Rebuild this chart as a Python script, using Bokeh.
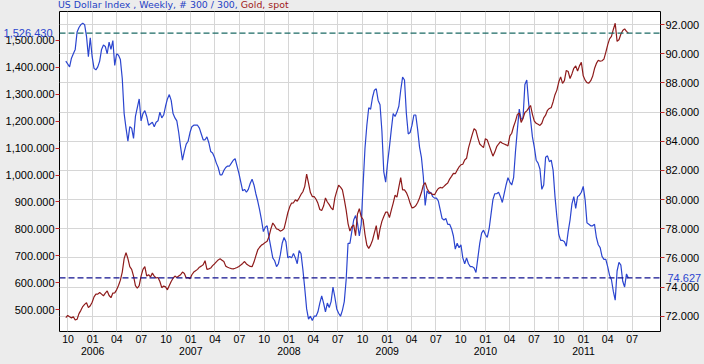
import pandas as pd
from datetime import datetime
from bokeh.plotting import figure
from bokeh.layouts import column
from bokeh.models import (Range1d, LinearAxis, FixedTicker, NumeralTickFormatter,
                          CustomJSTickFormatter, Span, ColumnDataSource, Div)
from bokeh.embed import file_html
from bokeh.resources import INLINE

# ---------------- data (weekly) ----------------
start_date = "2005-09-23"

usd_values = [
    89.5, 89.3, 89.1, 89.7, 90.0, 90.3, 91.5, 91.8, 92.0, 92.1,
    92.0, 91.2, 89.8, 91.1, 89.8, 89.0, 88.9, 89.1, 89.5, 90.3,
    90.6, 90.5, 90.0, 90.8, 90.3, 90.9, 89.2, 90.0, 89.9, 89.6,
    88.3, 85.9, 84.9, 84.0, 85.0, 84.9, 84.2, 85.7, 86.3, 86.9,
    85.4, 85.9, 86.1, 85.7, 85.1, 85.2, 85.3, 85.0, 85.3, 85.4,
    86.0, 85.6, 85.8, 86.4, 86.9, 87.2, 86.8, 85.9, 85.6, 85.4,
    84.6, 83.6, 82.7, 83.3, 83.8, 84.0, 84.6, 85.0, 85.1, 85.1,
    85.1, 84.9, 84.5, 84.1, 84.1, 84.3, 83.9, 83.3, 83.2, 82.9,
    82.5, 82.2, 81.7, 81.7, 82.0, 82.2, 82.3, 82.3, 82.5, 82.7,
    82.8, 82.3, 81.8, 81.2, 80.6, 80.7, 80.5, 80.7, 81.1, 81.4,
    81.0, 80.4, 79.9, 79.3, 78.6, 77.8, 78.1, 78.2, 77.4, 76.7,
    76.0, 75.8, 75.4, 75.6, 76.2, 77.0, 77.4, 77.1, 76.0, 76.1,
    76.0, 76.3, 76.0, 75.6, 76.5, 76.3, 75.2, 73.9, 72.5, 71.8,
    72.0, 71.7, 72.0, 72.0, 72.3, 72.9, 73.4, 72.9, 72.3, 72.9,
    72.6, 73.0, 74.0, 73.3, 72.5, 72.2, 72.0, 72.4, 73.0, 74.5,
    77.0, 77.0, 77.8, 78.6, 78.9, 78.4, 77.5, 78.3, 81.0, 83.5,
    85.1, 86.3, 86.2, 87.0, 87.5, 87.6, 86.8, 86.5, 84.7, 81.9,
    81.2, 82.5, 83.6, 84.8, 85.9, 85.7, 86.0, 86.4, 87.5, 88.4,
    88.2, 85.9, 84.5, 84.6, 85.1, 85.8, 85.8, 84.8, 83.6, 82.9,
    81.6, 79.6, 80.6, 80.4, 80.5, 80.2, 80.1, 80.1, 79.9, 79.3,
    78.7, 78.6, 78.7, 78.3, 78.3, 78.0, 77.5, 76.6, 77.0, 76.7,
    76.9, 76.0, 75.6, 76.0, 75.6, 75.4, 75.4, 75.3, 75.0, 76.0,
    77.0, 77.7, 77.9, 77.6, 77.4, 78.0, 79.0, 80.0, 80.4, 80.4,
    80.5, 80.2, 79.8, 80.4, 81.0, 81.5, 81.2, 81.0, 81.5, 83.3,
    84.8, 86.2, 85.5, 85.6, 87.9, 88.2, 86.6, 85.5, 84.3, 83.6,
    82.7, 82.5, 82.1, 80.7, 81.0, 82.9, 83.0, 82.6, 82.7, 82.0,
    80.2, 78.8, 77.6, 77.2, 77.2, 77.1, 76.8, 77.8, 78.6, 79.7,
    80.2, 79.4, 80.2, 80.3, 80.5, 80.9, 80.0, 78.4, 78.3, 78.2,
    78.2, 78.3, 77.4, 76.9, 76.7, 76.1, 75.9, 75.9, 75.4, 74.8,
    74.5, 73.7, 73.1, 75.1, 75.7, 75.5, 74.4, 74.0, 74.9, 74.627,
]

gold_values = [
    471, 479, 474, 470, 474, 462, 465, 486, 498, 512,
    520, 526, 508, 515, 528, 548, 558, 558, 564, 558,
    552, 562, 570, 553, 545, 562, 563, 574, 590, 610,
    640, 690, 712, 690, 660, 650, 625, 590, 580, 590,
    625, 650, 660, 625, 630, 622, 636, 625, 618, 620,
    605, 582, 588, 585, 574, 590, 605, 617, 625, 620,
    625, 630, 640, 635, 618, 620, 615, 630, 640, 645,
    650, 658, 662, 667, 682, 650, 652, 655, 664, 670,
    678, 685, 689, 684, 679, 662, 658, 655, 653, 652,
    654, 657, 661, 666, 672, 679, 670, 665, 661, 660,
    677, 700, 722, 732, 740, 744, 750, 754, 772, 800,
    822, 812, 800, 798, 792, 795, 801, 830, 860, 882,
    896, 897, 908, 903, 915, 928, 938, 958, 1003, 970,
    935, 920, 920, 910, 895, 872, 868, 885, 915, 900,
    890, 878, 871, 915, 940, 962, 955, 945, 910, 870,
    820, 792, 808, 815, 775, 855, 875, 845, 835, 780,
    740, 728, 740, 758, 785, 812, 760, 800, 828, 846,
    862, 862, 842, 870, 896, 925, 918, 955, 990, 945,
    945, 935, 918, 895, 878, 880, 886, 898, 915, 935,
    962, 972, 950, 938, 932, 928, 927, 940, 950, 954,
    952, 958, 965, 970, 985, 995, 1006, 1005, 1018, 1030,
    1038, 1040, 1056, 1062, 1100, 1125, 1150, 1172, 1165, 1138,
    1115, 1108, 1102, 1135, 1130, 1110, 1090, 1070, 1085, 1105,
    1115, 1124, 1118, 1115, 1112, 1108, 1145, 1155, 1180, 1200,
    1225, 1230, 1195, 1210, 1232, 1238, 1248, 1258, 1225, 1200,
    1192, 1188, 1184, 1192, 1212, 1222, 1240, 1247, 1250, 1272,
    1298, 1315, 1345, 1364, 1340, 1350, 1388, 1384, 1358, 1375,
    1396, 1405, 1386, 1405, 1418, 1368, 1352, 1343, 1341, 1350,
    1366, 1395, 1414, 1426, 1422, 1424, 1430, 1455, 1483, 1505,
    1514, 1540, 1563, 1496, 1502, 1522, 1536, 1542, 1533, 1526.43,
]

quarter_ticks = ["2005-10-01",
                 "2006-01-01", "2006-04-01", "2006-07-01", "2006-10-01",
                 "2007-01-01", "2007-04-01", "2007-07-01", "2007-10-01",
                 "2008-01-01", "2008-04-01", "2008-07-01", "2008-10-01",
                 "2009-01-01", "2009-04-01", "2009-07-01", "2009-10-01",
                 "2010-01-01", "2010-04-01", "2010-07-01", "2010-10-01",
                 "2011-01-01", "2011-04-01", "2011-07-01"]
year_ticks = ["2006-01-01", "2007-01-01", "2008-01-01", "2009-01-01",
              "2010-01-01", "2011-01-01"]
usd_ticks = [72, 74, 76, 78, 80, 82, 84, 86, 88, 90, 92]
gold_ticks = [500, 600, 700, 800, 900, 1000, 1100, 1200, 1300, 1400, 1500]

title_usd = "US Dollar Index , Weekly, # 300 / 300, "
title_gold = "Gold, spot"

# ---------------- styling ----------------
FONT = "Liberation Sans"
TITLE_FONT = "DejaVu Sans"
BLUE = "#2B45CF"
RED = "#8E1B1B"
TICK_RED = "#C62828"
BG = "#ECECEC"
GRID = "#D6D6D6"

def to_ms(d):
    return pd.Timestamp(d).value / 1e6

x_start = datetime(2005, 8, 30, 12)
x_end = datetime(2011, 10, 14, 12)

dates_usd = pd.date_range(start_date, periods=len(usd_values), freq="7D")
dates_gold = pd.date_range(start_date, periods=len(gold_values), freq="7D")
src_usd = ColumnDataSource(dict(date=dates_usd, value=usd_values))
src_gold = ColumnDataSource(dict(date=dates_gold, value=gold_values))

# ---------------- title (two colours) ----------------
title_div = Div(
    text=(f'<span style="color:#2441C4">{title_usd}</span>'
          f'<span style="color:#A01818">{title_gold}</span>'),
    width=704, height=10, margin=(0, 0, 0, 0),
    styles={"background-color": BG, "font-family": TITLE_FONT, "font-size": "9.4px",
            "line-height": "10px", "padding-left": "58px", "white-space": "pre",
            "box-sizing": "border-box", "overflow": "visible"})

# ---------------- figure ----------------
p = figure(width=704, height=354, x_axis_type="datetime", y_axis_location="right",
           x_range=Range1d(x_start, x_end),
           y_range=Range1d(70.95, 92.90),
           output_backend="svg", toolbar_location=None,
           min_border_left=58, min_border_right=43, min_border_top=1, min_border_bottom=33,
           background_fill_color="white", border_fill_color=BG,
           outline_line_color="black", outline_line_width=1, margin=(0, 0, 0, 0))
p.extra_y_ranges = {"gold": Range1d(419.5, 1606.6)}

# right axis (USD)
ax_r = p.yaxis[0]
ax_r.ticker = FixedTicker(ticks=usd_ticks)
ax_r.formatter = NumeralTickFormatter(format="0.000")

# left axis (Gold)
ax_l = LinearAxis(y_range_name="gold", ticker=FixedTicker(ticks=gold_ticks),
                  formatter=NumeralTickFormatter(format="0,0.000"))
p.add_layout(ax_l, "left")

for ax in (ax_r, ax_l):
    ax.axis_line_color = None
    ax.major_tick_in = 0
    ax.major_tick_out = 4
    ax.major_tick_line_color = TICK_RED
    ax.minor_tick_line_color = None
    ax.major_label_standoff = 1
    ax.major_label_text_font = FONT
    ax.major_label_text_font_size = "11px"
    ax.major_label_text_color = "black"

# last-value markers on the value axes (outer axes overlaid on the tick-label area)
ax_l_last = LinearAxis(y_range_name="gold", ticker=FixedTicker(ticks=[gold_values[-1]]),
                       formatter=NumeralTickFormatter(format="0,0.000"))
ax_r_last = LinearAxis(ticker=FixedTicker(ticks=[usd_values[-1]]),
                       formatter=NumeralTickFormatter(format="0.000"))
for ax in (ax_l_last, ax_r_last):
    ax.axis_line_color = None
    ax.major_tick_in = 0
    ax.major_tick_out = 0
    ax.major_tick_line_color = None
    ax.minor_tick_line_color = None
    ax.major_label_text_font = FONT
    ax.major_label_text_font_size = "11px"
    ax.major_label_text_color = BLUE
ax_l_last.major_label_standoff = -50
ax_r_last.major_label_standoff = -35
p.add_layout(ax_l_last, "left")
p.add_layout(ax_r_last, "right")

# month axis
ax_m = p.xaxis[0]
ax_m.ticker = FixedTicker(ticks=[to_ms(d) for d in quarter_ticks])
ax_m.formatter = CustomJSTickFormatter(code="""
    const m = new Date(tick).getUTCMonth() + 1;
    return (m < 10 ? '0' : '') + m;
""")
# year axis
ax_y = LinearAxis(ticker=FixedTicker(ticks=[to_ms(d) for d in year_ticks]),
                  formatter=CustomJSTickFormatter(code="return String(new Date(tick).getUTCFullYear());"))
for ax in (ax_m, ax_y):
    ax.axis_line_color = None
    ax.major_tick_in = 0
    ax.major_tick_out = 0
    ax.major_tick_line_color = None
    ax.minor_tick_line_color = None
    ax.major_label_text_font = FONT
    ax.major_label_text_font_size = "10.5px"
    ax.major_label_text_color = "black"
ax_m.major_label_standoff = 3
ax_y.major_label_standoff = 1
p.add_layout(ax_y, "below")

# grids
p.xgrid.ticker = ax_m.ticker
p.ygrid.ticker = ax_r.ticker
p.xgrid.grid_line_color = GRID
p.ygrid.grid_line_color = GRID

# series
p.line("date", "value", source=src_usd, line_color=BLUE, line_width=1.2)
p.line("date", "value", source=src_gold, y_range_name="gold", line_color=RED, line_width=1.2)

# last-value lines
p.add_layout(Span(location=gold_values[-1], dimension="width", y_range_name="gold",
                  line_color="#1B6A64", line_dash="6 3", line_width=1.2))
p.add_layout(Span(location=usd_values[-1], dimension="width",
                  line_color="#10108F", line_dash="6 3", line_width=1.2))

layout = column(title_div, p, spacing=0, margin=(0, 0, 0, 0), styles={"background-color": BG})
open("out.html", "w").write(file_html(layout, INLINE))
